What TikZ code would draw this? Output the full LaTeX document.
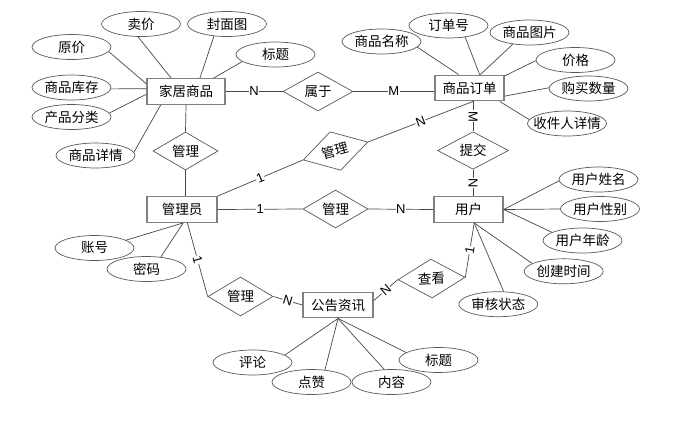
\documentclass[tikz,border=0pt]{standalone}
\usepackage{fontspec}
\setmainfont{Noto Sans CJK SC}
\newfontfamily\latf{Liberation Sans}
\usetikzlibrary{shapes.geometric}
\begin{document}
\begin{tikzpicture}[x=1pt,y=-1pt,
  every node/.style={font=\fontsize{13.5pt}{16pt}\selectfont, text=black},
  ent/.style={draw=black!50, line width=1.4pt, minimum width=70pt, minimum height=25.5pt, inner sep=0pt, fill=white},
  att/.style={ellipse, draw=black!65, line width=0.7pt, minimum width=79pt, minimum height=25pt, inner xsep=-6pt, inner ysep=0pt},
  rel/.style={diamond, draw=black!65, line width=0.7pt, minimum width=65pt, minimum height=38pt, inner sep=0pt, shape aspect=1.7},
  ln/.style={draw=black!72, line width=0.7pt},
  card/.style={fill=white, inner sep=0.6pt, font=\latf\fontsize{13pt}{15pt}\selectfont},
]
\useasboundingbox[fill=white] (0,0) rectangle (684,426);

% entities
\node[ent, minimum width=78pt] (jj) at (186,91.5) {家居商品};
\node[ent, minimum width=69pt] (dd) at (469.5,88) {商品订单};
\node[ent] (gly) at (182,209.5) {管理员};
\node[ent, minimum width=69pt] (yh) at (468.5,209.5) {用户};
\node[ent] (gg) at (338,305) {公告资讯};

% relationships
\node[rel, minimum width=70pt, minimum height=39pt] (r1) at (318,91.5) {属于};
\node[rel] (r2) at (185.5,151) {管理};
\node[rel, minimum width=67pt, minimum height=40pt, rotate=15.5] (r3) at (335.5,151) {管理};
\node[rel, minimum width=71pt, minimum height=37.5pt] (r4) at (473,150.5) {提交};
\node[rel] (r5) at (335.5,209) {管理};
\node[rel, minimum height=39pt] (r6) at (240.5,296.5) {管理};
\node[rel, minimum width=67pt, minimum height=39pt, rotate=2] (r7) at (431.5,278.5) {查看};

% attributes of 家居商品
\node[att] (a1) at (141,24) {卖价};
\node[att] (a2) at (227,24) {封面图};
\node[att] (a3) at (71.5,47) {原价};
\node[att] (a4) at (275.5,54.5) {标题};
\node[att] (a5) at (71.5,87.5) {商品库存};
\node[att] (a6) at (71.5,117) {产品分类};
\node[att] (a7) at (95.5,155.5) {商品详情};

% attributes of 商品订单
\node[att] (b1) at (381.5,41.5) {商品名称};
\node[att] (b2) at (448.5,25.5) {订单号};
\node[att] (b3) at (529.5,32.5) {商品图片};
\node[att] (b4) at (575.5,60) {价格};
\node[att] (b5) at (588.5,88.5) {购买数量};
\node[att] (b6) at (567,123.5) {收件人详情};

% attributes of 用户
\node[att] (c1) at (598.5,179.5) {用户姓名};
\node[att] (c2) at (600,209) {用户性别};
\node[att] (c3) at (582.5,240.5) {用户年龄};
\node[att] (c4) at (563.7,271.3) {创建时间};
\node[att] (c5) at (498.3,304.2) {审核状态};

% attributes of 管理员
\node[att] (d1) at (94.5,248) {账号};
\node[att] (d2) at (146.5,269) {密码};

% attributes of 公告资讯
\node[att] (e1) at (252.5,362.5) {评论};
\node[att] (e2) at (311.5,382) {点赞};
\node[att] (e3) at (391.5,382) {内容};
\node[att] (e4) at (438.5,360) {标题};

% attribute connectors
\draw[ln] (a1.257) -- (jj.138);
\draw[ln] (a2.223) -- (jj.44);
\draw[ln] (a3.353) -- (jj.169);
\draw[ln] (a4.192) -- (jj.26);
\draw[ln] (a5.358) -- (jj.176);
\draw[ln] (a6.6) -- (jj.184);
\draw[ln] (a7.5) -- (jj.208);

\draw[ln] (b1.351) -- (dd.129);
\draw[ln] (b2.325) -- (dd.53);
\draw[ln] (b3.215) -- (dd.51);
\draw[ln] (b4.181) -- (dd.19);
\draw[ln] (b5.179) -- (dd.347);
\draw[ln] (b6.174) -- (dd.336);

\draw[ln] (c1.182) -- (yh.east);
\draw[ln] (c2.west) -- (yh.east);
\draw[ln] (c3.165) -- (yh.east);
\draw[ln] (c4.166) -- (yh.293);
\draw[ln] (c5.67) -- (yh.293);

\draw[ln] (d1.14) -- (gly.275);
\draw[ln] (d2.40) -- (gly.275);

\draw[ln] (e1.13) -- (gg.south);
\draw[ln] (e2.42) -- (gg.south);
\draw[ln] (e3.120) -- (gg.south);
\draw[ln] (e4.167) -- (gg.south);

% relationship connectors
\draw[ln] (jj.east) -- node[card]{N} (r1.west);
\draw[ln] (r1.east) -- node[card]{M} (r1.east -| dd.west);
\draw[ln] (jj.south) -- (r2.north);
\draw[ln] (r2.south) -- (r2.south |- gly.north);
\draw[ln] (gly.north east) -- node[card,sloped]{1} (r3.west);
\draw[ln] (r3.east) -- node[card,sloped]{N} (r4.north |- dd.south);
\draw[ln] (r4.north |- dd.south) -- node[card,rotate=-90]{M} (r4.north);
\draw[ln] (r4.south) -- node[card,rotate=-90]{N} (r4.south |- yh.north);
\draw[ln] (gly.east) -- node[card]{1} (r5.west);
\draw[ln] (r5.east) -- node[card]{N} (yh.west);
\draw[ln] (gly.292) -- node[card,sloped]{1} (r6.west);
\draw[ln] (r6.east) -- node[card,sloped]{N} (gg.west);
\draw[ln] (gg.7) -- node[card,sloped]{N} (r7.west);
\draw[ln] (r7.east) -- node[card,sloped]{1} (yh.293);
\end{tikzpicture}
\end{document}
